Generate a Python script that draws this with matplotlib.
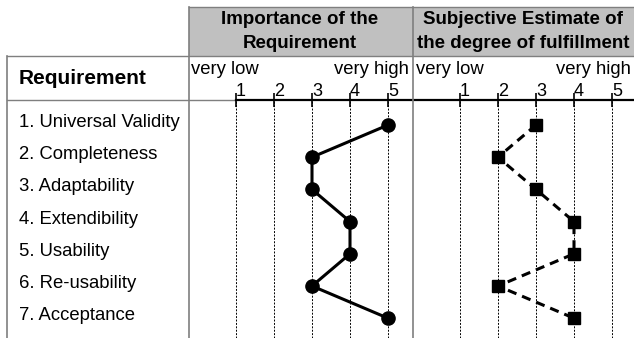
import matplotlib
matplotlib.use("Agg")
import matplotlib.pyplot as plt
from matplotlib import transforms

plt.rcParams['font.family'] = ['Liberation Sans', 'DejaVu Sans']

# data
requirements = ['1. Universal Validity', '2. Completeness', '3. Adaptability',
                '4. Extendibility', '5. Usability', '6. Re-usability', '7. Acceptance']
importance = [5, 3, 3, 4, 4, 3, 5]
fulfillment = [3, 2, 3, 4, 4, 2, 4]
scale = [1, 2, 3, 4, 5]
header_left = ['Importance of the', 'Requirement']
header_right = ['Subjective Estimate of', 'the degree of fulfillment']

W, H = 634, 338
fig = plt.figure(figsize=(W / 100, H / 100), dpi=100)

# background axes in pixel coords for the table frame and header text
bg = fig.add_axes([0, 0, 1, 1])
bg.set_xlim(0, W)
bg.set_ylim(H, 0)
bg.axis('off')

grey = '#7f7f7f'
bg.fill_between([189, W], 7, 56, color='#c0c0c0', lw=0)
bg.plot([189, W], [7, 7], color=grey, lw=1)
bg.plot([7, W], [56, 56], color=grey, lw=1)
bg.plot([7, 236], [100, 100], color=grey, lw=1)
bg.plot([236, W], [100, 100], color='black', lw=1.6)
bg.plot([7, 7], [56, H], color=grey, lw=1.2)
bg.plot([189, 189], [7, H], color=grey, lw=1.2)
bg.plot([413, 413], [7, H], color=grey, lw=1.2)

hfs = 13.5
bg.text(300, 19, header_left[0], ha='center', va='center', fontsize=hfs, fontweight='bold')
bg.text(300, 43, header_left[1], ha='center', va='center', fontsize=hfs, fontweight='bold')
bg.text(523, 19, header_right[0], ha='center', va='center', fontsize=hfs, fontweight='bold')
bg.text(523, 43, header_right[1], ha='center', va='center', fontsize=hfs, fontweight='bold')
bg.text(19, 79, 'Requirement', ha='left', va='center', fontsize=15, fontweight='bold')

for x0, x1 in [(191, 409), (416, 631)]:
    bg.text(x0, 70, 'very low', ha='left', va='center', fontsize=13.3)
    bg.text(x1, 70, 'very high', ha='right', va='center', fontsize=13.3)

# panels
unit = 38.0
row_px = 32.2
y_top = (100 - 125) / row_px
y_bot = (H - 125) / row_px
y_lab = (96 - 125) / row_px

ax1 = fig.add_axes([189 / W, 0, (412 - 189) / W, 238 / H])
ax2 = fig.add_axes([413 / W, 0, (634 - 413) / W, 238 / H])
ax1.set_xlim(1 - 47 / unit, 5 + 24 / unit)
ax2.set_xlim(1 - 47 / unit, 5 + 22 / unit)

rows = list(range(len(requirements)))

for ax in (ax1, ax2):
    ax.set_ylim(y_bot, y_top)
    ax.patch.set_alpha(0)
    for s in ax.spines.values():
        s.set_visible(False)
    ax.set_yticks([])
    ax.xaxis.tick_top()
    ax.set_xticks(scale)
    ax.set_xticklabels([])
    ax.tick_params(axis='x', direction='inout', length=10, width=1.2)
    for v in scale:
        ax.axvline(v, color='black', lw=0.7, ls=(0, (2, 1.5)), zorder=1)
        ax.text(v + 0.13, y_lab, str(v), ha='center', va='baseline', fontsize=13,
                clip_on=False)

ax1.plot(importance, rows, color='black', lw=2.2, marker='o', ms=9.5,
         clip_on=False, zorder=3)
ax2.plot(fulfillment, rows, color='black', lw=2.2, ls=(0, (3, 2)), marker='s', ms=8.5,
         clip_on=False, zorder=3)

# row labels
trans = transforms.blended_transform_factory(fig.transFigure, ax1.transData)
for r, name in zip(rows, requirements):
    fig.text(19 / W, r - 0.08, name, transform=trans, ha='left', va='center', fontsize=13.3)

fig.savefig('out.png', dpi=100)
